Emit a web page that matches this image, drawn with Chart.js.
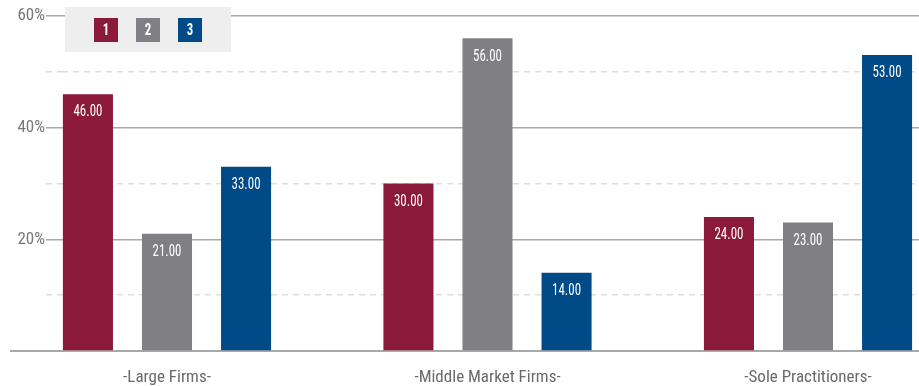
<!DOCTYPE html>
<html>
<head>
<meta charset="utf-8">
<script src="https://cdn.jsdelivr.net/npm/chart.js@4"></script>
<style>
  html, body { margin: 0; padding: 0; background: #fff; }
  #wrap { width: 919px; height: 386px; position: relative; }
</style>
</head>
<body>
<div id="wrap"><canvas id="firmChart"></canvas></div>
<script>
const categories = ["-Large Firms-", "-Middle Market Firms-", "-Sole Practitioners-"];
const seriesNames = ["1", "2", "3"];
const series1 = [46, 30, 24];
const series2 = [21, 56, 23];
const series3 = [33, 14, 53];
const yTicks = [0, 10, 20, 30, 40, 50, 60];

const colors = ["#8b1a3a", "#808084", "#004a87"];
const FONT = "'Roboto Condensed', Roboto, 'Liberation Sans', sans-serif";

const toPoints = vals => vals.map((v, i) => ({ x: i, y: v }));

// value text near the top of each bar, squeezed to a narrow face
const barValues = {
  id: "barValues",
  afterDatasetsDraw(chart) {
    const ctx = chart.ctx;
    ctx.save();
    ctx.fillStyle = "#fff";
    ctx.font = "17px " + FONT;
    ctx.textAlign = "center";
    ctx.textBaseline = "middle";
    chart.data.datasets.forEach((ds, di) => {
      chart.getDatasetMeta(di).data.forEach((bar, i) => {
        ctx.save();
        ctx.translate(bar.x, bar.y + 18);
        ctx.scale(0.76, 1);
        ctx.fillText(ds.data[i].y.toFixed(2), 0, 0);
        ctx.restore();
      });
    });
    ctx.restore();
  }
};

// long baseline under the bars
const baseLine = {
  id: "baseLine",
  beforeDatasetsDraw(chart) {
    const ctx = chart.ctx;
    const y = chart.scales.y.getPixelForValue(0);
    ctx.save();
    ctx.strokeStyle = "#a8a8a8";
    ctx.lineWidth = 2;
    ctx.beginPath();
    ctx.moveTo(10, y);
    ctx.lineTo(chart.chartArea.right, y);
    ctx.stroke();
    ctx.restore();
  }
};

// grey legend panel with numbered swatches
const boxLegend = {
  id: "boxLegend",
  afterDraw(chart) {
    const ctx = chart.ctx;
    ctx.save();
    ctx.fillStyle = "#eeeeee";
    ctx.fillRect(65, 7, 166, 45);
    ctx.font = "bold 16px " + FONT;
    ctx.textAlign = "center";
    ctx.textBaseline = "middle";
    chart.data.datasets.forEach((ds, i) => {
      const x = 94 + i * 42;
      ctx.fillStyle = ds.backgroundColor;
      ctx.fillRect(x, 18, 24, 24);
      ctx.fillStyle = "#fff";
      ctx.save();
      ctx.translate(x + 12, 31);
      ctx.scale(0.8, 1);
      ctx.fillText(ds.label, 0, 0);
      ctx.restore();
    });
    ctx.restore();
  }
};

const gridColor = c => {
  const v = c.tick ? c.tick.value : 1;
  if (v === 0) return "rgba(0,0,0,0)";
  return v % 20 === 0 ? "#a8a8a8" : "#dddddd";
};
const gridDash = c => (c.tick && c.tick.value % 20 !== 0 ? [6, 5] : []);

new Chart(document.getElementById("firmChart"), {
  type: "bar",
  data: {
    datasets: [series1, series2, series3].map((vals, i) => ({
      label: seriesNames[i],
      data: toPoints(vals),
      backgroundColor: colors[i],
      categoryPercentage: 0.74,
      barPercentage: 0.633
    }))
  },
  options: {
    responsive: true,
    maintainAspectRatio: false,
    animation: false,
    layout: { padding: { top: 16, right: 0, left: 0, bottom: 0 } },
    plugins: { legend: { display: false }, tooltip: { enabled: false } },
    scales: {
      x: {
        type: "linear",
        bounds: "data",
        offset: false,
        min: -0.3276,
        max: 2.3463,
        grid: { display: false },
        border: { display: false },
        afterFit: s => { s.height = 35; },
        afterBuildTicks: s => { s.ticks = categories.map((c, i) => ({ value: i })); },
        ticks: {
          autoSkip: false,
          maxRotation: 0,
          padding: 9,
          color: "#6a6a6a",
          font: { family: FONT, size: 17 },
          callback: v => categories[v] || ""
        }
      },
      y: {
        min: 0,
        max: 60,
        afterFit: s => { s.width = 62; },
        afterBuildTicks: s => { s.ticks = yTicks.map(v => ({ value: v })); },
        grid: {
          color: gridColor,
          tickColor: gridColor,
          lineWidth: 1.5,
          tickLength: 16,
          tickBorderDash: gridDash
        },
        border: { display: false, dash: gridDash },
        ticks: {
          padding: 1,
          color: "#777",
          font: { family: FONT, size: 17 },
          callback: v => (v > 0 && v % 20 === 0) ? v + "%" : ""
        }
      }
    }
  },
  plugins: [baseLine, barValues, boxLegend]
});
</script>
</body>
</html>
